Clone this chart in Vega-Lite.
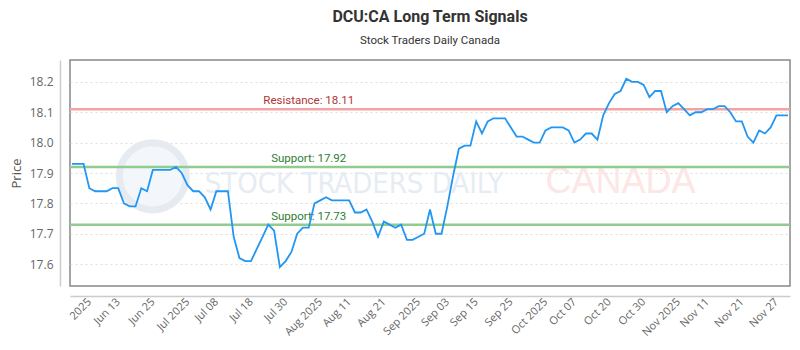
{
  "$schema": "https://vega.github.io/schema/vega-lite/v6.json",
  "width": 720,
  "height": 226,
  "autosize": {"type": "none"},
  "padding": {"left": 70, "top": 60, "right": 10, "bottom": 64},
  "background": "white",
  "config": {
    "view": {"stroke": "#888888", "strokeWidth": 1.5},
    "font": "Open Sans",
    "axisY": {"labelOverlap": false, "labelFlush": false}
  },
  "title": {
    "text": "DCU:CA Long Term Signals",
    "subtitle": "Stock Traders Daily Canada",
    "anchor": "middle",
    "font": "Roboto",
    "fontSize": 16,
    "fontWeight": "bold",
    "color": "#333333",
    "subtitleFont": "Roboto",
    "subtitleFontSize": 11.5,
    "subtitleColor": "#333333",
    "subtitlePadding": 10,
    "offset": 14
  },
  "datasets": {
    "prices": [
      {"date": "2025-06-02", "price": 17.93}, {"date": "2025-06-03", "price": 17.93}, {"date": "2025-06-04", "price": 17.93},
      {"date": "2025-06-05", "price": 17.85}, {"date": "2025-06-06", "price": 17.84}, {"date": "2025-06-09", "price": 17.84},
      {"date": "2025-06-10", "price": 17.84}, {"date": "2025-06-11", "price": 17.85}, {"date": "2025-06-12", "price": 17.85},
      {"date": "2025-06-13", "price": 17.80}, {"date": "2025-06-16", "price": 17.79}, {"date": "2025-06-17", "price": 17.79},
      {"date": "2025-06-18", "price": 17.85}, {"date": "2025-06-19", "price": 17.84}, {"date": "2025-06-20", "price": 17.91},
      {"date": "2025-06-23", "price": 17.91}, {"date": "2025-06-24", "price": 17.91}, {"date": "2025-06-25", "price": 17.91},
      {"date": "2025-06-26", "price": 17.92}, {"date": "2025-06-27", "price": 17.90}, {"date": "2025-06-30", "price": 17.86},
      {"date": "2025-07-02", "price": 17.84}, {"date": "2025-07-03", "price": 17.84}, {"date": "2025-07-04", "price": 17.82},
      {"date": "2025-07-07", "price": 17.78}, {"date": "2025-07-08", "price": 17.84}, {"date": "2025-07-09", "price": 17.84},
      {"date": "2025-07-10", "price": 17.84}, {"date": "2025-07-11", "price": 17.69}, {"date": "2025-07-14", "price": 17.62},
      {"date": "2025-07-15", "price": 17.61}, {"date": "2025-07-16", "price": 17.61}, {"date": "2025-07-17", "price": 17.65},
      {"date": "2025-07-18", "price": 17.69}, {"date": "2025-07-21", "price": 17.73}, {"date": "2025-07-22", "price": 17.71},
      {"date": "2025-07-23", "price": 17.59}, {"date": "2025-07-24", "price": 17.61}, {"date": "2025-07-25", "price": 17.64},
      {"date": "2025-07-28", "price": 17.70}, {"date": "2025-07-29", "price": 17.72}, {"date": "2025-07-30", "price": 17.72},
      {"date": "2025-07-31", "price": 17.80}, {"date": "2025-08-01", "price": 17.81}, {"date": "2025-08-05", "price": 17.82},
      {"date": "2025-08-06", "price": 17.81}, {"date": "2025-08-07", "price": 17.81}, {"date": "2025-08-08", "price": 17.81},
      {"date": "2025-08-11", "price": 17.81}, {"date": "2025-08-12", "price": 17.77}, {"date": "2025-08-13", "price": 17.77},
      {"date": "2025-08-14", "price": 17.78}, {"date": "2025-08-15", "price": 17.74}, {"date": "2025-08-18", "price": 17.69},
      {"date": "2025-08-19", "price": 17.74}, {"date": "2025-08-20", "price": 17.73}, {"date": "2025-08-21", "price": 17.72},
      {"date": "2025-08-22", "price": 17.73}, {"date": "2025-08-25", "price": 17.68}, {"date": "2025-08-26", "price": 17.68},
      {"date": "2025-08-27", "price": 17.69}, {"date": "2025-08-28", "price": 17.70}, {"date": "2025-08-29", "price": 17.78},
      {"date": "2025-09-02", "price": 17.70}, {"date": "2025-09-03", "price": 17.70}, {"date": "2025-09-04", "price": 17.79},
      {"date": "2025-09-05", "price": 17.89}, {"date": "2025-09-08", "price": 17.98}, {"date": "2025-09-09", "price": 17.99},
      {"date": "2025-09-10", "price": 17.99}, {"date": "2025-09-11", "price": 18.07}, {"date": "2025-09-12", "price": 18.03},
      {"date": "2025-09-15", "price": 18.07}, {"date": "2025-09-16", "price": 18.08}, {"date": "2025-09-17", "price": 18.08},
      {"date": "2025-09-18", "price": 18.08}, {"date": "2025-09-19", "price": 18.05}, {"date": "2025-09-22", "price": 18.02},
      {"date": "2025-09-23", "price": 18.02}, {"date": "2025-09-24", "price": 18.01}, {"date": "2025-09-25", "price": 18.00},
      {"date": "2025-09-26", "price": 18.00}, {"date": "2025-09-29", "price": 18.04}, {"date": "2025-09-30", "price": 18.05},
      {"date": "2025-10-01", "price": 18.05}, {"date": "2025-10-02", "price": 18.05}, {"date": "2025-10-03", "price": 18.04},
      {"date": "2025-10-06", "price": 18.00}, {"date": "2025-10-07", "price": 18.01}, {"date": "2025-10-08", "price": 18.03},
      {"date": "2025-10-09", "price": 18.03}, {"date": "2025-10-10", "price": 18.01}, {"date": "2025-10-14", "price": 18.09},
      {"date": "2025-10-15", "price": 18.13}, {"date": "2025-10-16", "price": 18.16}, {"date": "2025-10-17", "price": 18.17},
      {"date": "2025-10-20", "price": 18.21}, {"date": "2025-10-21", "price": 18.20}, {"date": "2025-10-22", "price": 18.20},
      {"date": "2025-10-23", "price": 18.19}, {"date": "2025-10-24", "price": 18.15}, {"date": "2025-10-27", "price": 18.17},
      {"date": "2025-10-28", "price": 18.17}, {"date": "2025-10-29", "price": 18.10}, {"date": "2025-10-30", "price": 18.12},
      {"date": "2025-10-31", "price": 18.13}, {"date": "2025-11-03", "price": 18.11}, {"date": "2025-11-04", "price": 18.09},
      {"date": "2025-11-05", "price": 18.10}, {"date": "2025-11-06", "price": 18.10}, {"date": "2025-11-07", "price": 18.11},
      {"date": "2025-11-10", "price": 18.11}, {"date": "2025-11-11", "price": 18.12}, {"date": "2025-11-12", "price": 18.12},
      {"date": "2025-11-13", "price": 18.10}, {"date": "2025-11-14", "price": 18.07}, {"date": "2025-11-17", "price": 18.07},
      {"date": "2025-11-18", "price": 18.02}, {"date": "2025-11-19", "price": 18.00}, {"date": "2025-11-20", "price": 18.04},
      {"date": "2025-11-21", "price": 18.03}, {"date": "2025-11-24", "price": 18.05}, {"date": "2025-11-25", "price": 18.09},
      {"date": "2025-11-26", "price": 18.09}, {"date": "2025-11-27", "price": 18.09}
    ],
    "levels": [
      {"kind": "Resistance", "value": 18.11, "label": "Resistance: 18.11"},
      {"kind": "Support", "value": 17.92, "label": "Support: 17.92"},
      {"kind": "Support", "value": 17.73, "label": "Support: 17.73"}
    ]
  },
  "layer": [
    {
      "data": {"values": [{}]},
      "mark": {"type": "point", "shape": "circle", "filled": true, "size": 4500, "fill": "#f3f6fa", "stroke": "#e6ebf2", "strokeWidth": 7, "opacity": 1},
      "encoding": {
        "x": {"datum": "2025-06-20", "type": "ordinal"},
        "y": {"datum": 17.889, "type": "quantitative", "title": "Price"}
      }
    },
    {
      "data": {"values": [{}]},
      "mark": {"type": "text", "text": "STOCK TRADERS DAILY", "font": "DejaVu Sans Condensed, Roboto, sans-serif", "fontSize": 29, "fill": "#e6ecf3", "align": "left", "baseline": "alphabetic"},
      "encoding": {
        "x": {"datum": "2025-07-04", "type": "ordinal"},
        "y": {"datum": 17.833, "type": "quantitative", "title": "Price"}
      }
    },
    {
      "data": {"values": [{}]},
      "mark": {"type": "text", "text": "CANADA", "font": "Liberation Sans, Arial, sans-serif", "fontSize": 36, "fill": "#fde6e6", "align": "left", "baseline": "alphabetic"},
      "encoding": {
        "x": {"datum": "2025-09-29", "type": "ordinal"},
        "y": {"datum": 17.833, "type": "quantitative", "title": "Price"}
      }
    },
    {
      "data": {"name": "levels"},
      "mark": {"type": "rule", "strokeWidth": 2.5},
      "encoding": {
        "y": {"field": "value", "type": "quantitative", "title": "Price"},
        "stroke": {"field": "kind", "type": "nominal", "scale": {"domain": ["Resistance", "Support"], "range": ["#f4a2a2", "#90cb90"]}, "legend": null}
      }
    },
    {
      "data": {"name": "levels"},
      "mark": {"type": "text", "align": "center", "baseline": "bottom", "dy": -3, "font": "Roboto", "fontSize": 11.5},
      "encoding": {
        "x": {"datum": "2025-07-30", "type": "ordinal"},
        "y": {"field": "value", "type": "quantitative", "title": "Price"},
        "text": {"field": "label"},
        "fill": {"field": "kind", "type": "nominal", "scale": {"domain": ["Resistance", "Support"], "range": ["#b03535", "#2e7d32"]}, "legend": null}
      }
    },
    {
      "data": {"name": "prices"},
      "mark": {"type": "line", "color": "#2196f3", "strokeWidth": 1.8},
      "encoding": {
        "x": {
          "field": "date",
          "type": "ordinal",
          "scale": {"type": "point", "padding": 0.3464},
          "axis": {
            "title": null,
            "values": ["2025-06-05", "2025-06-12", "2025-06-20", "2025-06-30", "2025-07-08", "2025-07-16", "2025-07-24", "2025-08-01", "2025-08-11", "2025-08-19", "2025-08-27", "2025-09-04", "2025-09-11", "2025-09-19", "2025-09-29", "2025-10-06", "2025-10-15", "2025-10-23", "2025-10-31", "2025-11-07", "2025-11-17", "2025-11-25"],
            "labelExpr": "({'2025-06-05':'2025','2025-06-12':'Jun 13','2025-06-20':'Jun 25','2025-06-30':'Jul 2025','2025-07-08':'Jul 08','2025-07-16':'Jul 18','2025-07-24':'Jul 30','2025-08-01':'Aug 2025','2025-08-11':'Aug 11','2025-08-19':'Aug 21','2025-08-27':'Sep 2025','2025-09-04':'Sep 03','2025-09-11':'Sep 15','2025-09-19':'Sep 25','2025-09-29':'Oct 2025','2025-10-06':'Oct 07','2025-10-15':'Oct 20','2025-10-23':'Oct 30','2025-10-31':'Nov 2025','2025-11-07':'Nov 11','2025-11-17':'Nov 21','2025-11-25':'Nov 27'})[datum.value]",
            "labelAngle": -45,
            "labelFont": "Open Sans",
            "labelFontSize": 11,
            "labelColor": "#666666",
            "labelPadding": 4,
            "labelOverlap": false,
            "ticks": false,
            "grid": false,
            "domainColor": "#cccccc",
            "domainWidth": 1.5,
            "offset": 10
          }
        },
        "y": {
          "field": "price",
          "type": "quantitative",
          "title": "Price",
          "scale": {"domain": [17.528, 18.272], "nice": false, "zero": false},
          "axis": {
            "values": [17.6, 17.7, 17.8, 17.9, 18.0, 18.1, 18.2],
            "tickCount": 12,
            "format": ".1f",
            "offset": 10,
            "ticks": false,
            "domainColor": "#cccccc",
            "domainWidth": 1.5,
            "grid": true,
            "gridColor": "#dddddd",
            "gridDash": [2, 3],
            "labelFont": "Open Sans",
            "labelFontSize": 12,
            "labelColor": "#666666",
            "labelPadding": 7,
            "labelOverlap": false,
            "labelFlush": false,
            "titleFont": "Open Sans",
            "titleFontSize": 13,
            "titleFontWeight": "normal",
            "titleColor": "#555555",
            "titlePadding": 6
          }
        }
      }
    }
  ]
}
